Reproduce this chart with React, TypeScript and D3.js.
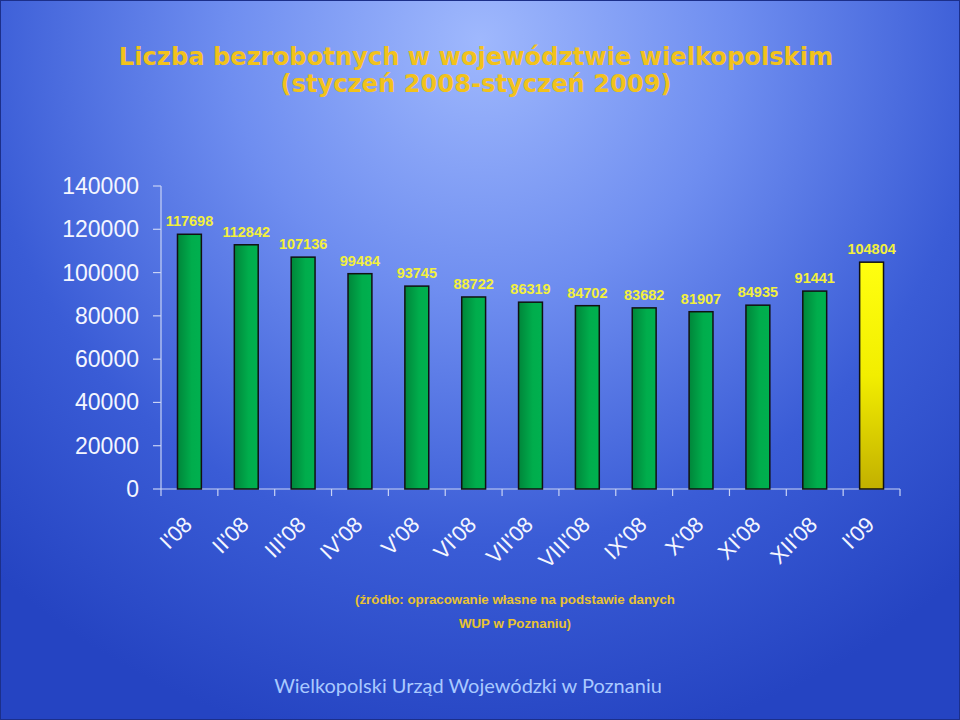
import React from "react";
import * as d3 from "d3";

const categories = ["I'08", "II'08", "III'08", "IV'08", "V'08", "VI'08", "VII'08", "VIII'08", "IX'08", "X'08", "XI'08", "XII'08", "I'09"];
const values = [117698, 112842, 107136, 99484, 93745, 88722, 86319, 84702, 83682, 81907, 84935, 91441, 104804];
const yTicks = [0, 20000, 40000, 60000, 80000, 100000, 120000, 140000];
const titleLines = ["Liczba bezrobotnych w województwie wielkopolskim", "(styczeń 2008-styczeń 2009)"];
const sourceLines = ["(źródło: opracowanie własne na podstawie danych", "WUP w Poznaniu)"];
const footer = "Wielkopolski Urząd Wojewódzki w Poznaniu";

export default function App() {
  const W = 960, H = 720;
  const left = 161, right = 900, top = 186, bottom = 489;
  const x = d3.scaleBand<string>().domain(categories).range([left, right]).paddingInner(0.58).paddingOuter(0.29);
  const band = d3.scaleBand<string>().domain(categories).range([left, right]);
  const y = d3.scaleLinear().domain([0, 140000]).range([bottom, top]);
  const axisColor = "#c9d3f5";
  return (
    <svg width={W} height={H} style={{ position: "absolute", left: 0, top: 0 }}>
      <defs>
        <radialGradient id="bg" cx="480" cy="40" r="720" gradientUnits="userSpaceOnUse">
          <stop offset="0" stopColor="#9fb8fd" />
          <stop offset="0.35" stopColor="#6f8ef0" />
          <stop offset="0.7" stopColor="#3a5cd6" />
          <stop offset="1" stopColor="#2544c2" />
        </radialGradient>
        <linearGradient id="green" x1="0" x2="1" y1="0" y2="0">
          <stop offset="0" stopColor="#00863a" />
          <stop offset="0.6" stopColor="#00ad4c" />
          <stop offset="1" stopColor="#00b04f" />
        </linearGradient>
        <linearGradient id="yellow" x1="0" x2="0" y1="0" y2="1">
          <stop offset="0" stopColor="#ffff10" />
          <stop offset="0.5" stopColor="#f2ee00" />
          <stop offset="1" stopColor="#c2b000" />
        </linearGradient>
      </defs>
      <rect x={0} y={0} width={W} height={H} fill="url(#bg)" />
      <rect x={0.5} y={0.5} width={W - 1} height={H - 1} fill="none" stroke="#1c2f8a" strokeWidth={1} />
      {titleLines.map((t, i) => (
        <text key={t} x={476} y={65 + i * 27} textAnchor="middle" fontFamily="DejaVu Sans, Verdana, sans-serif" fontWeight="bold" fontSize={24.2} fill="#f2c21c">{t}</text>
      ))}
      {/* y axis */}
      <line x1={left} x2={left} y1={top} y2={bottom} stroke={axisColor} strokeWidth={1.2} />
      {yTicks.map((t) => (
        <g key={t}>
          <line x1={left - 8} x2={left} y1={y(t)} y2={y(t)} stroke={axisColor} strokeWidth={1.2} />
          <text x={139} y={y(t) + 8} textAnchor="end" fontFamily="Liberation Sans, Arial, sans-serif" fontSize={23} fill="#f4f6ff">{t}</text>
        </g>
      ))}
      {/* x axis */}
      <line x1={left} x2={right} y1={bottom} y2={bottom} stroke={axisColor} strokeWidth={1.2} />
      {categories.map((c) => (
        <line key={"t" + c} x1={band(c)!} x2={band(c)!} y1={bottom} y2={bottom + 7} stroke={axisColor} strokeWidth={1.2} />
      ))}
      <line x1={right} x2={right} y1={bottom} y2={bottom + 7} stroke={axisColor} strokeWidth={1.2} />
      {categories.map((c, i) => {
        const last = i === categories.length - 1;
        return (
          <rect key={"b" + c} x={x(c)!} y={y(values[i])} width={x.bandwidth()} height={bottom - y(values[i])}
            fill={last ? "url(#yellow)" : "url(#green)"} stroke="#111" strokeWidth={1.5} />
        );
      })}
      {categories.map((c, i) => (
        <text key={"l" + c} x={x(c)! + x.bandwidth() / 2} y={y(values[i]) - 8} textAnchor="middle" fontFamily="Liberation Sans, Arial, sans-serif" fontWeight="bold" fontSize={14.5} fill="#f3f03c">{values[i]}</text>
      ))}
      {categories.map((c) => {
        const cx = band(c)! + band.bandwidth() / 2 + 4;
        const cy = 526;
        return (
          <text key={"x" + c} x={cx} y={cy} transform={`rotate(-45 ${cx} ${cy})`} textAnchor="end" fontFamily="Liberation Sans, Arial, sans-serif" fontSize={22} fill="#f4f6ff">{c}</text>
        );
      })}
      {sourceLines.map((t, i) => (
        <text key={t} x={515} y={604 + i * 24} textAnchor="middle" fontFamily="Liberation Sans, Arial, sans-serif" fontWeight="bold" fontSize={13.3} fill="#e9c330">{t}</text>
      ))}
      <text x={468} y={693} textAnchor="middle" fontFamily="Lato, sans-serif" fontSize={20} fill="#a9c9ff">{footer}</text>
    </svg>
  );
}
